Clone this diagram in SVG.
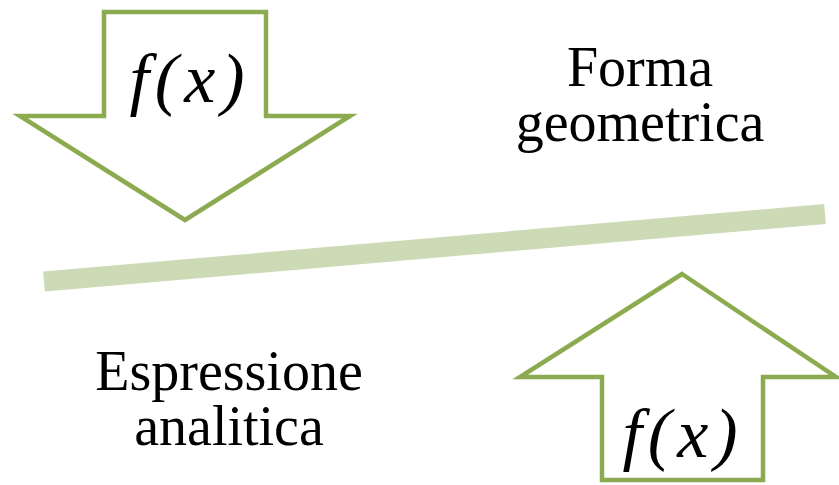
<svg xmlns="http://www.w3.org/2000/svg" width="839" height="485" viewBox="0 0 839 485">
<style>
.arrow{fill:#fff;stroke:#8CAA4F;stroke-width:4.5;stroke-linejoin:miter}
.lbl{font-family:"Liberation Serif","Times New Roman",serif;font-size:56px;fill:#000;text-anchor:middle}
.fx{font-family:"Liberation Serif","Times New Roman",serif;font-style:italic;font-size:70px;letter-spacing:6px;fill:#000;text-anchor:middle}
</style>
<rect width="839" height="485" fill="#fff"/>
<g id="connectors">
<line x1="44" y1="281.5" x2="825" y2="214" stroke="#CCDAB5" stroke-width="20"/>
</g>
<g id="arrow-down">
<polygon class="arrow" points="104,12 266,12 266,116 350,116 185,220 20,116 104,116"/>
<text class="fx" x="190" y="102">f(x)</text>
</g>
<g id="arrow-up">
<polygon class="arrow" points="682,274 836,377 763,377 763,480 602,480 602,377 520,377"/>
<text class="fx" x="683" y="457">f(x)</text>
</g>
<g id="forma">
<text class="lbl" x="640" y="86">Forma</text>
<text class="lbl" x="640" y="141">geometrica</text>
</g>
<g id="espressione">
<text class="lbl" x="229" y="390">Espressione</text>
<text class="lbl" x="229" y="445">analitica</text>
</g>
</svg>
